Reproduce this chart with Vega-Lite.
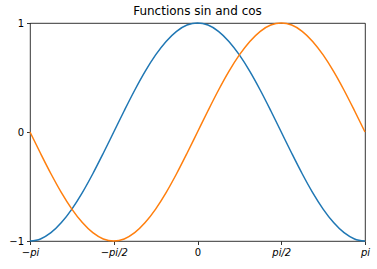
{
  "$schema": "https://vega.github.io/schema/vega-lite/v6.json",
  "autosize": "none",
  "width": 335,
  "height": 218,
  "padding": {"left": 30, "top": 23, "right": 12, "bottom": 28},
  "background": "white",
  "title": {"text": "Functions sin and cos", "font": "DejaVu Sans", "fontSize": 12, "fontWeight": "normal", "color": "black", "offset": 0},
  "config": {
    "view": {"stroke": "black", "strokeWidth": 0.8},
    "axis": {"domain": false, "grid": false, "ticks": true, "tickSize": 3.5, "tickColor": "black", "tickWidth": 0.8, "labelFont": "DejaVu Sans", "labelFontSize": 10, "labelColor": "black", "labelPadding": 3, "title": null}
  },
  "data": {"values": [
    {"x": -3.1416, "cos": -1, "sin": 0},
    {"x": -2.9452, "cos": -0.981, "sin": -0.195},
    {"x": -2.7489, "cos": -0.924, "sin": -0.383},
    {"x": -2.5525, "cos": -0.831, "sin": -0.556},
    {"x": -2.3562, "cos": -0.707, "sin": -0.707},
    {"x": -2.1598, "cos": -0.556, "sin": -0.831},
    {"x": -1.9635, "cos": -0.383, "sin": -0.924},
    {"x": -1.7671, "cos": -0.195, "sin": -0.981},
    {"x": -1.5708, "cos": 0, "sin": -1},
    {"x": -1.3744, "cos": 0.195, "sin": -0.981},
    {"x": -1.1781, "cos": 0.383, "sin": -0.924},
    {"x": -0.9817, "cos": 0.556, "sin": -0.831},
    {"x": -0.7854, "cos": 0.707, "sin": -0.707},
    {"x": -0.589, "cos": 0.831, "sin": -0.556},
    {"x": -0.3927, "cos": 0.924, "sin": -0.383},
    {"x": -0.1963, "cos": 0.981, "sin": -0.195},
    {"x": 0, "cos": 1, "sin": 0},
    {"x": 0.1963, "cos": 0.981, "sin": 0.195},
    {"x": 0.3927, "cos": 0.924, "sin": 0.383},
    {"x": 0.589, "cos": 0.831, "sin": 0.556},
    {"x": 0.7854, "cos": 0.707, "sin": 0.707},
    {"x": 0.9817, "cos": 0.556, "sin": 0.831},
    {"x": 1.1781, "cos": 0.383, "sin": 0.924},
    {"x": 1.3744, "cos": 0.195, "sin": 0.981},
    {"x": 1.5708, "cos": 0, "sin": 1},
    {"x": 1.7671, "cos": -0.195, "sin": 0.981},
    {"x": 1.9635, "cos": -0.383, "sin": 0.924},
    {"x": 2.1598, "cos": -0.556, "sin": 0.831},
    {"x": 2.3562, "cos": -0.707, "sin": 0.707},
    {"x": 2.5525, "cos": -0.831, "sin": 0.556},
    {"x": 2.7489, "cos": -0.924, "sin": 0.383},
    {"x": 2.9452, "cos": -0.981, "sin": 0.195},
    {"x": 3.1416, "cos": -1, "sin": 0}
  ]},
  "transform": [{"fold": ["cos", "sin"], "as": ["fn", "y"]}],
  "mark": {"type": "line", "strokeWidth": 1.5, "interpolate": "monotone"},
  "encoding": {
    "x": {"field": "x", "type": "quantitative",
      "scale": {"domain": [-3.1416, 3.1416], "nice": false, "zero": false},
      "axis": {"values": [-3.1416, -1.5708, 0, 1.5708, 3.1416],
        "labelExpr": "datum.value < -2 ? '−pi' : datum.value < -1 ? '−pi/2' : datum.value < 1 ? '0' : datum.value < 2 ? 'pi/2' : 'pi'",
        "labelFontStyle": {"condition": {"test": "datum.value == 0", "value": "normal"}, "value": "italic"},
        "labelFlush": false, "labelOverlap": false}},
    "y": {"field": "y", "type": "quantitative",
      "scale": {"domain": [-1, 1], "nice": false, "zero": false},
      "axis": {"values": [-1, 0, 1], "labelExpr": "datum.value < -0.5 ? '−1' : datum.value > 0.5 ? '1' : '0'", "labelFlush": false, "labelOverlap": false}},
    "color": {"field": "fn", "type": "nominal", "legend": null,
      "scale": {"domain": ["cos", "sin"], "range": ["#1f77b4", "#ff7f0e"]}}
  }
}
